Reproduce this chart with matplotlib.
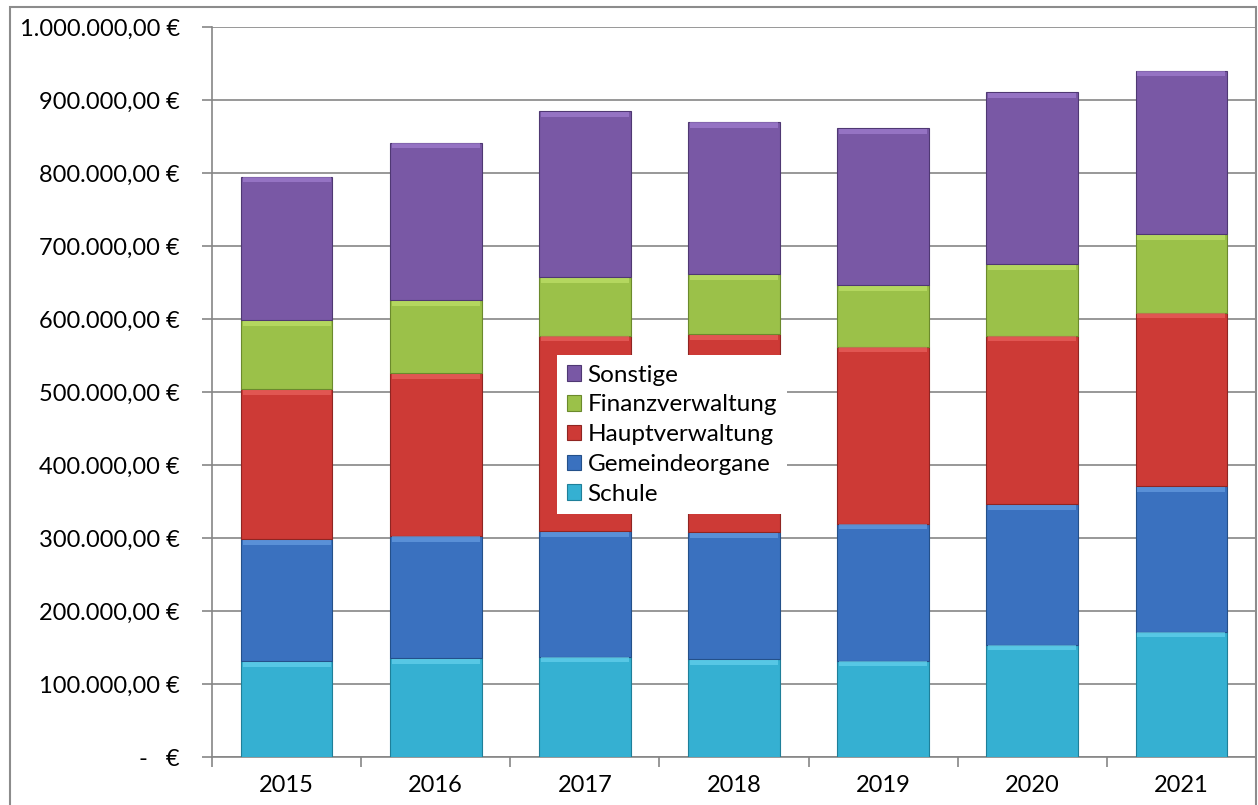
import matplotlib.pyplot as plt
from matplotlib.patches import Rectangle
from matplotlib.ticker import FuncFormatter, FixedLocator
import numpy as np

plt.rcParams['font.family'] = ['Lato', 'DejaVu Sans']

years = ["2015", "2016", "2017", "2018", "2019", "2020", "2021"]
schule = [131500, 135000, 137500, 134000, 132000, 154000, 171500]
gemeindeorgane = [166500, 168000, 172000, 174000, 187500, 192000, 199500]
hauptverwaltung = [206000, 223000, 267500, 271000, 242500, 231000, 237500]
finanzverwaltung = [94000, 100000, 80500, 82000, 84000, 98000, 108000]
sonstige = [197000, 215500, 227500, 209000, 215000, 236000, 223500]

# name, values, fill, edge, top highlight
series = [
    ("Schule", schule, "#35b0d2", "#1f7f99", "#6fd8f2"),
    ("Gemeindeorgane", gemeindeorgane, "#3a71bf", "#24508a", "#6fa6e8"),
    ("Hauptverwaltung", hauptverwaltung, "#cd3a36", "#8f2522", "#f06a66"),
    ("Finanzverwaltung", finanzverwaltung, "#9bc149", "#6b8a2c", "#c6e66e"),
    ("Sonstige", sonstige, "#7958a5", "#4f3873", "#a886d8"),
]

def euro(v, pos):
    if v == 0:
        return "-   €"
    s = f"{v:,.2f}".replace(",", "X").replace(".", ",").replace("X", ".")
    return s + " €"

fig = plt.figure(figsize=(12.58, 8.05), dpi=100)
fig.patches.append(Rectangle((10/1258, -0.01), 1246/1258, 1 - 7/805 + 0.01,
                             transform=fig.transFigure, fill=False,
                             edgecolor="#8c8c8c", linewidth=1.5))
ax = fig.add_axes([212/1258, 48/805, (1256-212)/1258, (757-27)/805])

x = np.arange(len(years))
w = 0.615
bottom = np.zeros(len(years))
for name, vals, col, edge, hi in series:
    vals = np.array(vals)
    ax.bar(x, vals, w, bottom=bottom, color=col, edgecolor=edge,
           linewidth=0.8, label=name, zorder=3)
    # bevel highlight along the top of each segment
    ax.bar(x, 7000, w * 0.96, bottom=bottom + vals - 7800, color=hi,
           linewidth=0, alpha=0.6, zorder=4)
    bottom += vals

ax.set_xlim(-0.5, len(years) - 0.5)
ax.set_ylim(0, 1000000)
ax.set_yticks(np.arange(0, 1000001, 100000))
ax.yaxis.set_major_formatter(FuncFormatter(euro))
ax.grid(axis="y", color="#868686", linewidth=1.2, zorder=0)

ax.set_xticks(x)
ax.set_xticklabels(years)
ax.xaxis.set_minor_locator(FixedLocator(np.arange(-0.5, len(years), 1)))
ax.tick_params(axis="x", which="major", length=0, pad=13, labelsize=17)
ax.tick_params(axis="x", which="minor", length=7, width=1.2, color="#868686")
ax.tick_params(axis="y", length=7, width=1.2, color="#868686", labelsize=17, pad=16)

for side in ["top", "right"]:
    ax.spines[side].set_visible(False)
for side in ["left", "bottom"]:
    ax.spines[side].set_color("#868686")
    ax.spines[side].set_linewidth(1.2)

handles, labels = ax.get_legend_handles_labels()
leg = fig.legend(handles[::-1], labels[::-1], loc="upper left",
                 bbox_to_anchor=(557/1258, 1 - 355/805), fontsize=17.5,
                 frameon=True, fancybox=False, edgecolor="white",
                 facecolor="white", framealpha=1, handlelength=0.6,
                 handleheight=0.6, handletextpad=0.25, labelspacing=0.36,
                 borderpad=0.4, borderaxespad=0)
leg.get_frame().set_linewidth(0)

fig.savefig("out.png", dpi=100)
